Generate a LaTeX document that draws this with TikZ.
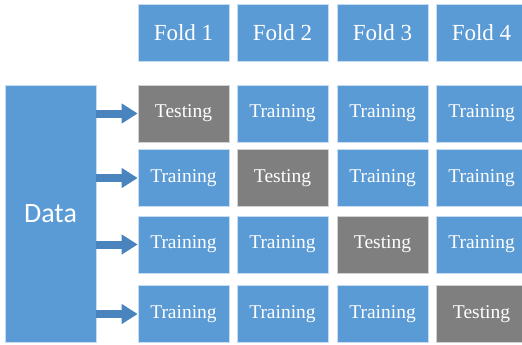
\documentclass[tikz,border=0pt]{standalone}
\usepackage{fontspec}
\setmainfont{Liberation Serif}
\newfontfamily\datafont{Carlito}
\usetikzlibrary{arrows.meta}
\definecolor{cellblue}{HTML}{5B9BD5}
\definecolor{cellgray}{HTML}{7F7F7F}
\definecolor{arrowblue}{HTML}{4A84BE}

\begin{document}
\begin{tikzpicture}[x=1pt, y=-1pt,
    box/.style={draw=white!65!cellblue, line width=0.6pt, text=white,
      minimum width=91pt, minimum height=57pt, inner sep=0pt},
    fold/.style={box, fill=cellblue, font=\fontsize{23}{26}\selectfont},
    train/.style={box, fill=cellblue, font=\fontsize{19.5}{22}\selectfont},
    test/.style={box, fill=cellgray, draw=white!65!cellgray, font=\fontsize{19.5}{22}\selectfont},
    feed/.style={arrowblue, line width=8pt, -{Triangle[length=16pt, width=19pt]}}]
    \useasboundingbox (0,0) rectangle (522,345);
    % fold headers
    \node[fold] (f1) at (183.5,33) {Fold 1};
    \node[fold] (f2) at (282.5,33) {Fold 2};
    \node[fold] (f3) at (382.5,33) {Fold 3};
    \node[fold] (f4) at (481.5,33) {Fold 4};
    % data block
    \node[box, fill=cellblue, minimum height=257pt, font=\datafont\fontsize{28}{32}\selectfont]
      (data) at (50.5,213.5) {Data};
    % rows
    \node[test]  (c11) at (183.5,113.5) {Testing};
    \node[train] (c12) at (282.5,113.5) {Training};
    \node[train] (c13) at (382.5,113.5) {Training};
    \node[train] (c14) at (481.5,113.5) {Training};
    \node[train] (c21) at (183.5,178) {Training};
    \node[test]  (c22) at (282.5,178) {Testing};
    \node[train] (c23) at (382.5,178) {Training};
    \node[train] (c24) at (481.5,178) {Training};
    \node[train] (c31) at (183.5,244.5) {Training};
    \node[train] (c32) at (282.5,244.5) {Training};
    \node[test]  (c33) at (382.5,244.5) {Testing};
    \node[train] (c34) at (481.5,244.5) {Training};
    \node[train] (c41) at (183.5,314) {Training};
    \node[train] (c42) at (282.5,314) {Training};
    \node[train] (c43) at (382.5,314) {Training};
    \node[test]  (c44) at (481.5,314) {Testing};
    % arrows
    \draw[feed] (data.east |- c11.west) -- (c11.west);
    \draw[feed] (data.east |- c21.west) -- (c21.west);
    \draw[feed] (data.east |- c31.west) -- (c31.west);
    \draw[feed] (data.east |- c41.west) -- (c41.west);
  \end{tikzpicture}
\end{document}
